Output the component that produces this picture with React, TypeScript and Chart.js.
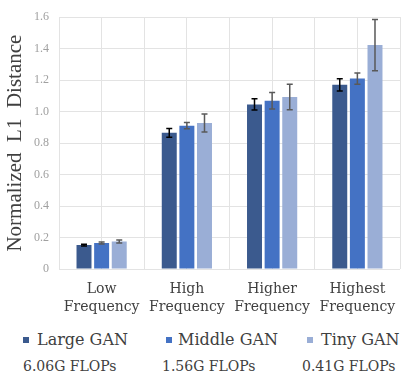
import React, { useEffect, useRef } from "react";
import { Chart, registerables } from "chart.js";

Chart.register(...registerables);

const categories: string[][] = [
  ["Low", "Frequency"],
  ["High", "Frequency"],
  ["Higher", "Frequency"],
  ["Highest", "Frequency"],
];
const seriesNames = ["Large GAN", "Middle GAN", "Tiny GAN"];
const seriesFlops = ["6.06G FLOPs", "1.56G FLOPs", "0.41G FLOPs"];
const largeValues = [0.152, 0.865, 1.046, 1.17];
const middleValues = [0.165, 0.911, 1.069, 1.21];
const tinyValues = [0.175, 0.928, 1.093, 1.423];
const largeErr = [0.006, 0.028, 0.036, 0.039];
const middleErr = [0.006, 0.02, 0.052, 0.036];
const tinyErr = [0.01, 0.057, 0.081, 0.163];
const colors = ["#3B5A8E", "#4472C4", "#9AAED6"];
const errColors = ["#000000", "#595959", "#595959"];
const yTicks = [0, 0.2, 0.4, 0.6, 0.8, 1.0, 1.2, 1.4, 1.6];

const errorBarPlugin = {
  id: "errorBars",
  afterDatasetsDraw(chart: any) {
    const ctx = chart.ctx;
    const y = chart.scales.y;
    chart.data.datasets.forEach((ds: any, di: number) => {
      const meta = chart.getDatasetMeta(di);
      meta.data.forEach((bar: any, i: number) => {
        const v = ds.data[i];
        const e = ds.errors[i];
        const top = y.getPixelForValue(v + e);
        const bot = y.getPixelForValue(v - e);
        const x = bar.x;
        const cap = 3;
        ctx.save();
        ctx.strokeStyle = ds.errorColor;
        ctx.lineWidth = 1.5;
        ctx.beginPath();
        ctx.moveTo(x, top);
        ctx.lineTo(x, bot);
        ctx.moveTo(x - cap, top);
        ctx.lineTo(x + cap, top);
        ctx.moveTo(x - cap, bot);
        ctx.lineTo(x + cap, bot);
        ctx.stroke();
        ctx.restore();
      });
    });
  },
};

const SERIF = "'DejaVu Serif', serif";
const TIMES = "'Liberation Serif', serif";

export default function App() {
  const ref = useRef<HTMLCanvasElement>(null);
  useEffect(() => {
    document.body.style.margin = "0";
    const values = [largeValues, middleValues, tinyValues];
    const errs = [largeErr, middleErr, tinyErr];
    const chart = new Chart(ref.current as HTMLCanvasElement, {
      type: "bar",
      data: {
        labels: categories,
        datasets: seriesNames.map((n, i) => ({
          label: n,
          data: values[i],
          errors: errs[i],
          errorColor: errColors[i],
          backgroundColor: colors[i],
          barPercentage: 0.85,
          categoryPercentage: 0.62,
        })) as any,
      },
      options: {
        animation: false,
        responsive: false,
        maintainAspectRatio: false,
        layout: { padding: { top: 16, right: 9, left: 0, bottom: 0 } },
        plugins: { legend: { display: false }, tooltip: { enabled: false } },
        scales: {
          x: {
            grid: { display: false },
            border: { display: false },
            ticks: {
              color: "#404040",
              font: { family: SERIF, size: 14, lineHeight: 1.3 },
              maxRotation: 0,
              padding: 3,
            },
            afterFit: (s: any) => {
              s.height = 61;
            },
          },
          x2: {
            type: "category",
            position: "top",
            labels: ["a", "b", "c", "d", "e", "f", "g", "h"],
            offset: true,
            grid: { display: true, offset: true, color: "#e3e3e3", drawTicks: false, lineWidth: 1 },
            border: { display: false },
            ticks: { display: false },
            afterFit: (s: any) => {
              s.height = 0;
            },
          },
          y: {
            min: 0,
            max: 1.6,
            afterBuildTicks: (s: any) => {
              s.ticks = yTicks.map((v) => ({ value: v }));
            },
            grid: { color: "#e3e3e3", drawTicks: false },
            border: { display: false },
            ticks: {
              color: "#a0a0a0",
              font: { family: TIMES, size: 12 },
              padding: 10,
              callback: (v: any) => (v === 0 ? "0" : Number(v).toFixed(1)),
            },
            title: {
              display: true,
              text: "Normalized  L1  Distance",
              color: "#404040",
              font: { family: TIMES, size: 21 },
              padding: { top: 3, bottom: 0 },
            },
            afterFit: (s: any) => {
              s.width = 59;
            },
          },
        },
      },
      plugins: [errorBarPlugin],
    });
    return () => chart.destroy();
  }, []);

  const rowStyle: React.CSSProperties = { position: "absolute", whiteSpace: "nowrap", color: "#404040", fontFamily: SERIF };
  const sqX = [23, 166, 307];
  const nameX = [37, 178, 321];
  const flopX = [23, 162, 302];
  return (
    <div style={{ position: "relative", width: 409, height: 375, background: "#fff" }}>
      <canvas ref={ref} width={409} height={330} style={{ position: "absolute", left: 0, top: 0 }} />
      {seriesNames.map((n, i) => (
        <React.Fragment key={n}>
          <div style={{ position: "absolute", left: sqX[i], top: 337, width: 6, height: 6, background: colors[i] }} />
          <div style={{ ...rowStyle, left: nameX[i], top: 330, fontSize: 16, lineHeight: "20px" }}>{n}</div>
          <div style={{ ...rowStyle, left: flopX[i], top: 358, fontSize: 14, lineHeight: "16px" }}>{seriesFlops[i]}</div>
        </React.Fragment>
      ))}
    </div>
  );
}
